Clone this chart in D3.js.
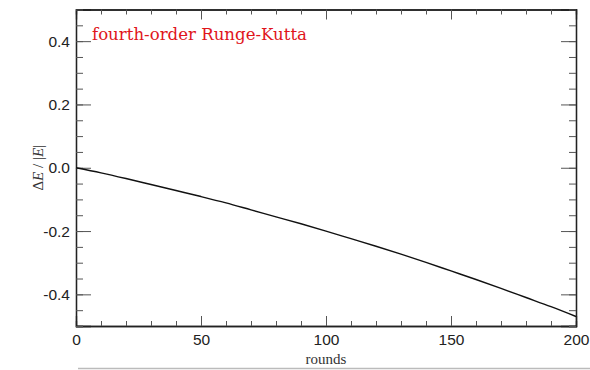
<!DOCTYPE html>
<html><head><meta charset="utf-8">
<script src="https://cdn.jsdelivr.net/npm/d3@7"></script>
<style>body{margin:0;background:#fff}svg{display:block}</style>
</head><body>
<svg id="c" width="590" height="370"></svg>
<script>
const rounds = [0,10,20,30,40,50,60,70,80,90,100,110,120,130,140,150,160,170,180,190,200];
const dE = [0,-0.016,-0.034,-0.053,-0.072,-0.091,-0.111,-0.133,-0.155,-0.177,-0.200,-0.224,-0.248,-0.273,-0.299,-0.326,-0.353,-0.381,-0.410,-0.439,-0.470];
const xTicks = [0,50,100,150,200];
const yTicks = [-0.4,-0.2,0.0,0.2,0.4];
const title = "fourth-order Runge-Kutta";

const svg = d3.select("#c");
const L=76,R=576,T=9.5,B=326;
const x = d3.scaleLinear().domain([0,200]).range([L,R]);
const y = d3.scaleLinear().domain([-0.5,0.5]).range([B,T]);
const col="#222";
const yfmt = d => d.toFixed(1);

// bottom axis
svg.append("g").attr("transform",`translate(0,${B})`)
  .call(d3.axisBottom(x).tickValues(xTicks).tickFormat(d3.format("d")).tickSize(-10).tickPadding(8));
svg.append("g").attr("transform",`translate(0,${B})`)
  .call(d3.axisBottom(x).tickValues(d3.range(0,201,10)).tickFormat("").tickSize(-5));
// top axis
svg.append("g").attr("transform",`translate(0,${T})`)
  .call(d3.axisTop(x).tickValues(xTicks).tickFormat("").tickSize(-10));
svg.append("g").attr("transform",`translate(0,${T})`)
  .call(d3.axisTop(x).tickValues(d3.range(0,201,10)).tickFormat("").tickSize(-5));
// left axis
svg.append("g").attr("transform",`translate(${L},0)`)
  .call(d3.axisLeft(y).tickValues(yTicks).tickFormat(yfmt).tickSize(-15).tickPadding(6));
svg.append("g").attr("transform",`translate(${L},0)`)
  .call(d3.axisLeft(y).tickValues(d3.range(-10,11).map(d=>d*0.05)).tickFormat("").tickSize(-7));
// right axis
svg.append("g").attr("transform",`translate(${R},0)`)
  .call(d3.axisRight(y).tickValues(yTicks).tickFormat("").tickSize(-15));
svg.append("g").attr("transform",`translate(${R},0)`)
  .call(d3.axisRight(y).tickValues(d3.range(-10,11).map(d=>d*0.05)).tickFormat("").tickSize(-7));

svg.selectAll(".domain").attr("stroke",col).attr("stroke-width",1.3);
svg.selectAll(".tick line").attr("stroke","#555").attr("stroke-width",1);
svg.selectAll(".tick text").attr("font-family","Liberation Sans, Arial, sans-serif")
  .attr("font-size",15.5).attr("fill","#222");

// line
svg.append("path").datum(rounds.map((r,i)=>[r,dE[i]]))
  .attr("fill","none").attr("stroke","#111").attr("stroke-width",1.4)
  .attr("d",d3.line().x(d=>x(d[0])).y(d=>y(d[1])).curve(d3.curveMonotoneX));

// title
svg.append("text").attr("x",92).attr("y",40).text(title)
  .attr("font-family","DejaVu Serif, serif").attr("font-size",16)
  .attr("textLength",215).attr("lengthAdjust","spacingAndGlyphs")
  .attr("fill","#e0151b");

// y label
const yl = svg.append("text").attr("transform",`translate(43,${y(0)}) rotate(-90)`)
  .attr("text-anchor","middle").attr("font-family","Liberation Serif, serif").attr("font-size",15).attr("fill","#333");
yl.append("tspan").text("Δ");
yl.append("tspan").attr("font-style","italic").text("E");
yl.append("tspan").text(" / |");
yl.append("tspan").attr("font-style","italic").text("E");
yl.append("tspan").text("|");

// x label
svg.append("text").attr("x",x(100)).attr("y",364).attr("text-anchor","middle")
  .attr("font-family","Liberation Serif, serif").attr("font-size",15).attr("fill","#333").text("rounds");

// faint edge of next panel
svg.append("line").attr("x1",78).attr("x2",590).attr("y1",368.5).attr("y2",368.5)
  .attr("stroke","#bbb").attr("stroke-width",1.5);
</script>
</body></html>
